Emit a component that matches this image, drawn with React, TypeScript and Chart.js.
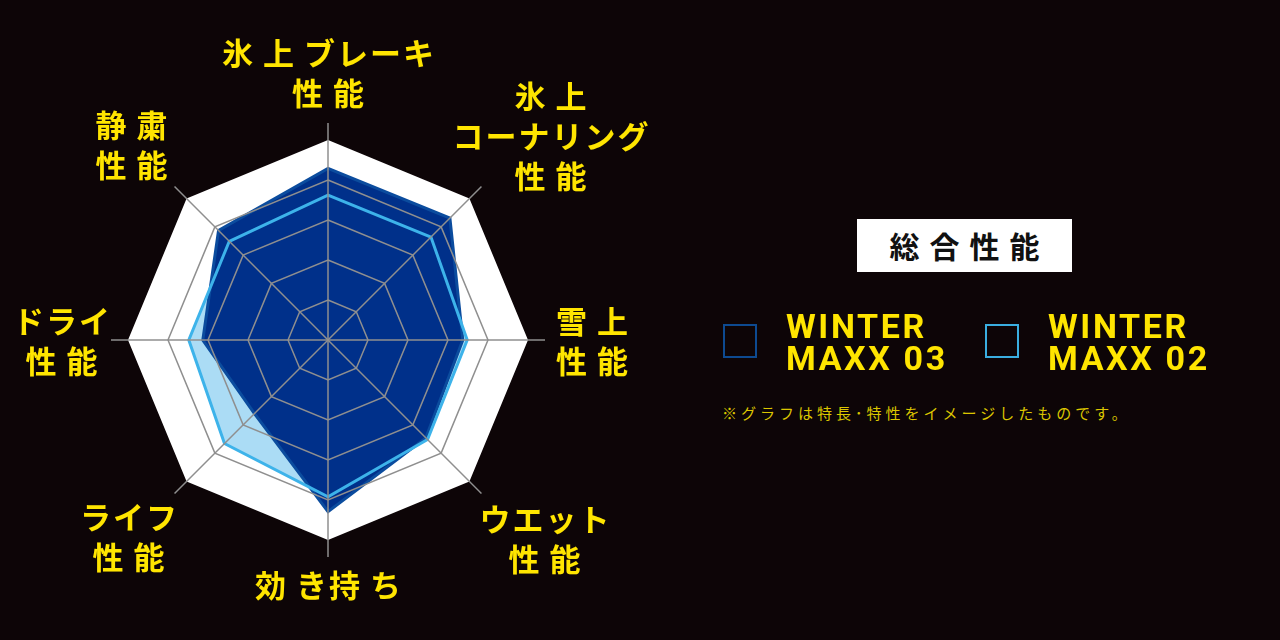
import React, { useEffect, useRef } from "react";
import { Chart, registerables } from "chart.js";

Chart.register(...registerables);

// ---- data ----
const categories: string[][] = [
  ["氷上ブレーキ", "性能"],
  ["氷上", "コーナリング", "性能"],
  ["雪上", "性能"],
  ["ウエット", "性能"],
  ["効き持ち"],
  ["ライフ", "性能"],
  ["ドライ", "性能"],
  ["静粛", "性能"],
];
const winterMaxx03 = [4.29, 4.31, 3.37, 3.46, 4.29, 2.6, 3.13, 3.87];
const winterMaxx02 = [3.62, 3.64, 3.48, 3.52, 3.92, 3.66, 3.48, 3.49];
const fullScale = [5, 5, 5, 5, 5, 5, 5, 5];
const gridLevels = [1, 2, 3, 4];
const scaleMax = 5.425;
const seriesNames = ["WINTER MAXX 03", "WINTER MAXX 02"];
const titleText = "総合性能";
const noteText = "※グラフは特長･特性をイメージしたものです。";

// ---- styles ----
const BG = "#0d0507";
const YELLOW = "#ffe500";
const NAVY_FILL = "#00308a";
const NAVY_LINE = "#0b4c9e";
const LIGHT_FILL = "#abdcf5";
const LIGHT_LINE = "#3db3ea";
const GRID = "#8f8f8f";
const LEGEND_BOX = ["#0d4a90", "#3aaee0"];
const LEGEND_LEFT = [723, 985];
const KANJI_SPACING = 10;
const KANA_SPACING = 2;
const LABEL_NUDGE: [number, number][] = [
  [0, -5], [6, 11], [0, 0], [20, 2], [0, 0], [-3, 0], [10, 0], [0, 0],
];

const isKana = (ch: string) => /[\u3040-\u30ff]/.test(ch);

export default function App() {
  const canvasRef = useRef<HTMLCanvasElement>(null);
  const labelRefs = useRef<(HTMLDivElement | null)[]>([]);

  useEffect(() => {
    const canvas = canvasRef.current;
    if (!canvas) return;

    const labelPlugin = {
      id: "htmlPointLabels",
      afterDraw(chart: any) {
        const s = chart.scales.r;
        const R0 = s.drawingArea + 12;
        categories.forEach((_, i) => {
          const el = labelRefs.current[i];
          if (!el) return;
          const w = el.offsetWidth - 2;
          const h = el.offsetHeight - 11;
          const a = s.getIndexAngle(i) - Math.PI / 2;
          const cx = Math.cos(a);
          const cy = Math.sin(a);
          const ex = Math.abs(cx) > 1e-3 ? w / 2 / Math.abs(cx) : Infinity;
          const ey = Math.abs(cy) > 1e-3 ? h / 2 / Math.abs(cy) : Infinity;
          const d = R0 + Math.min(ex, ey);
          const [nx, ny] = LABEL_NUDGE[i];
          el.style.left = `${s.xCenter + cx * d - el.offsetWidth / 2 + nx}px`;
          el.style.top = `${s.yCenter + cy * d - el.offsetHeight / 2 + ny}px`;
          el.style.visibility = "visible";
        });
      },
    };

    const labels = categories.map((c) => c.join(""));
    const chart = new Chart(canvas, {
      type: "radar",
      data: {
        labels,
        datasets: [
          {
            label: seriesNames[1] + " line",
            data: winterMaxx02,
            fill: false,
            borderColor: LIGHT_LINE,
            borderWidth: 3,
            pointRadius: 0,
          },
          {
            label: seriesNames[0],
            data: winterMaxx03,
            fill: true,
            backgroundColor: NAVY_FILL,
            borderColor: NAVY_LINE,
            borderWidth: 3,
            pointRadius: 0,
          },
          {
            label: seriesNames[1],
            data: winterMaxx02,
            fill: true,
            backgroundColor: LIGHT_FILL,
            borderColor: "transparent",
            borderWidth: 0,
            pointRadius: 0,
          },
          {
            label: "full",
            data: fullScale,
            fill: true,
            backgroundColor: "#ffffff",
            borderColor: "transparent",
            borderWidth: 0,
            pointRadius: 0,
          },
        ],
      },
      options: {
        responsive: false,
        animation: false,
        layout: { padding: { left: 111, right: 111, top: 123, bottom: 83 } },
        elements: { line: { tension: 0 } },
        plugins: {
          legend: { display: false },
          tooltip: { enabled: false },
        },
        scales: {
          r: {
            min: 0,
            max: scaleMax,
            ticks: { display: false, stepSize: 1 },
            pointLabels: { display: false },
            grid: {
              z: 1,
              color: (ctx: any) =>
                ctx.tick && gridLevels.includes(ctx.tick.value) ? GRID : "transparent",
              lineWidth: 1.5,
            },
            angleLines: { color: GRID, lineWidth: 1.5 },
          },
        },
      },
      plugins: [labelPlugin],
    } as any);

    return () => chart.destroy();
  }, []);

  return (
    <div
      style={{
        position: "fixed",
        left: 0,
        top: 0,
        width: 1280,
        height: 640,
        background: BG,
        overflow: "hidden",
        fontFamily: '"Noto Sans CJK JP", sans-serif',
      }}
    >
      <canvas
        ref={canvasRef}
        width={656}
        height={640}
        style={{ position: "absolute", left: 0, top: 0, width: 656, height: 640 }}
      />
      {categories.map((lines, i) => (
        <div
          key={i}
          ref={(el) => {
            labelRefs.current[i] = el;
          }}
          style={{
            position: "absolute",
            left: 0,
            top: 0,
            visibility: "hidden",
            color: YELLOW,
            fontFamily: '"Noto Sans CJK JP", sans-serif',
            fontWeight: 700,
            fontSize: 31,
            lineHeight: "40px",
            textAlign: "center",
            whiteSpace: "nowrap",
          }}
        >
          {lines.map((l, j) => {
            const chars = Array.from(l);
            return (
              <div key={j}>
                {chars.map((ch, k) => (
                  <span
                    key={k}
                    style={{
                      letterSpacing:
                        k === chars.length - 1
                          ? 0
                          : `${isKana(ch) ? KANA_SPACING : KANJI_SPACING}px`,
                    }}
                  >
                    {ch}
                  </span>
                ))}
              </div>
            );
          })}
        </div>
      ))}

      <div
        style={{
          position: "absolute",
          left: 857,
          top: 219,
          width: 215,
          height: 53,
          background: "#ffffff",
          color: "#111111",
          fontFamily: '"Noto Sans CJK JP", sans-serif',
          fontWeight: 700,
          fontSize: 30,
          letterSpacing: "10px",
          paddingLeft: 10,
          boxSizing: "border-box",
          display: "flex",
          alignItems: "center",
          justifyContent: "center",
          lineHeight: "53px",
        }}
      >
        {titleText}
      </div>

      {seriesNames.map((name, i) => {
        const sp = name.indexOf(" ");
        return (
          <div key={name} style={{ position: "absolute", left: LEGEND_LEFT[i], top: 310 }}>
            <div
              style={{
                position: "absolute",
                left: 0,
                top: 14,
                width: 34,
                height: 34,
                boxSizing: "border-box",
                border: `2px solid ${LEGEND_BOX[i]}`,
              }}
            />
            <div
              style={{
                position: "absolute",
                left: 63,
                top: 0,
                color: YELLOW,
                fontFamily: "Roboto, sans-serif",
                fontWeight: 700,
                fontSize: 34,
                lineHeight: "32px",
                letterSpacing: "2.6px",
                whiteSpace: "nowrap",
              }}
            >
              <div>{name.slice(0, sp)}</div>
              <div>{name.slice(sp + 1)}</div>
            </div>
          </div>
        );
      })}

      <div
        style={{
          position: "absolute",
          left: 722,
          top: 402,
          color: "#dcc600",
          fontFamily: '"Noto Sans CJK JP", sans-serif',
          fontSize: 15,
          lineHeight: "22px",
          letterSpacing: "4px",
          whiteSpace: "nowrap",
        }}
      >
        {noteText}
      </div>
    </div>
  );
}
